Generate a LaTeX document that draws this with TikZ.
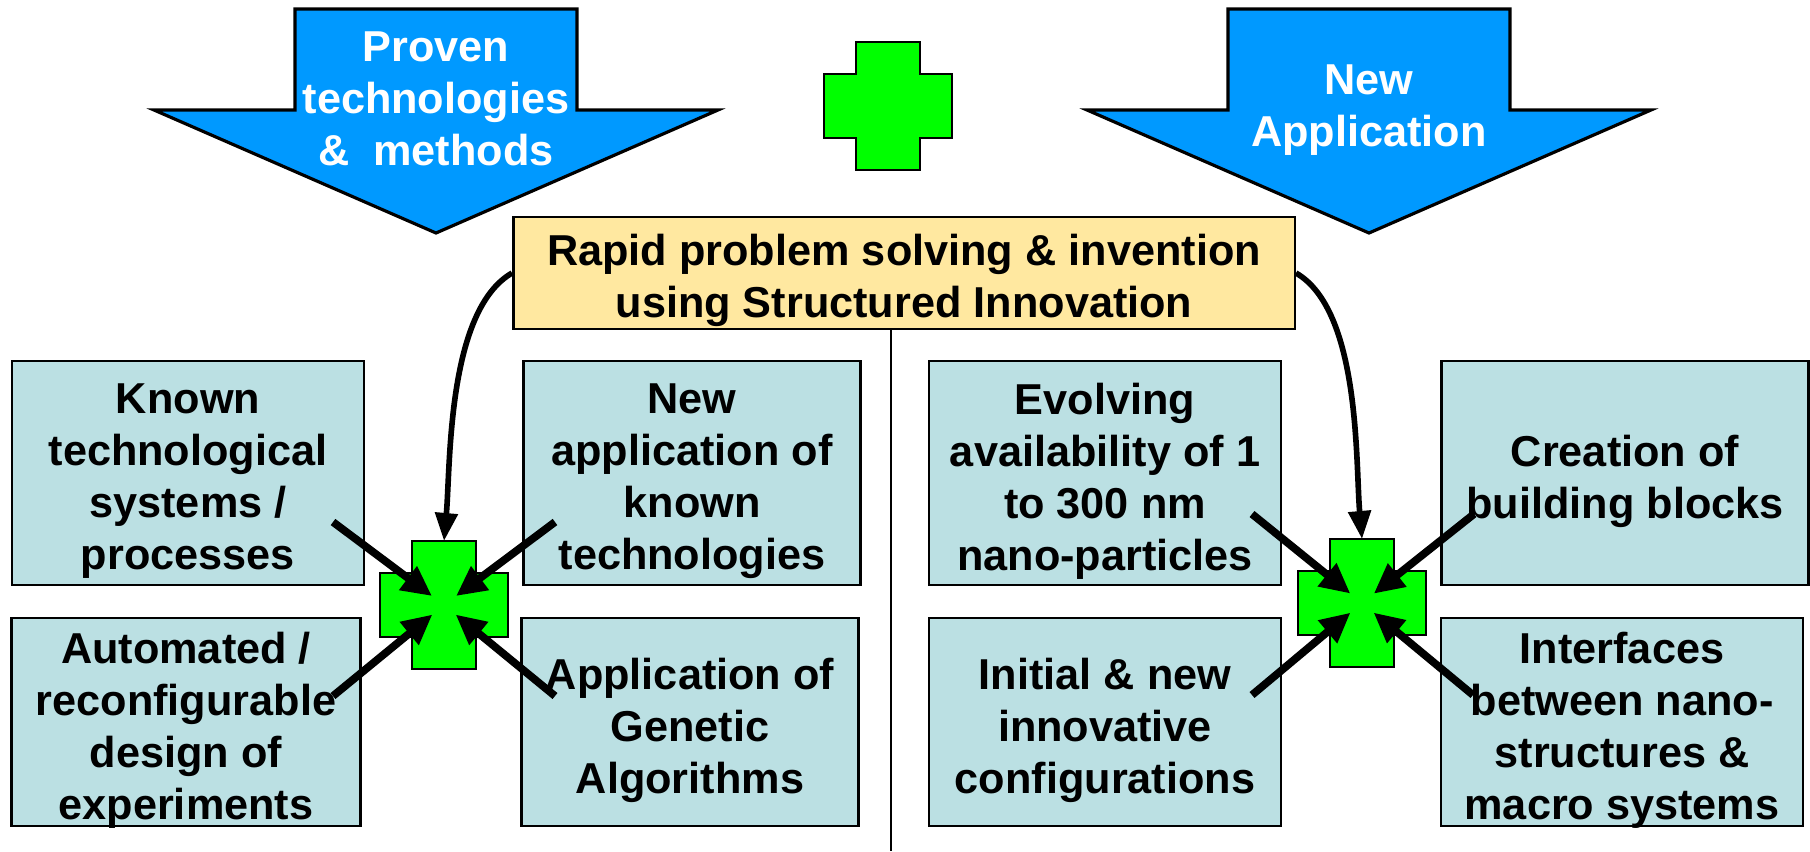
\documentclass[tikz,border=0pt]{standalone}
\usepackage{fontspec}
\setmainfont{Liberation Sans}
\usetikzlibrary{arrows.meta}
\definecolor{flowblue}{RGB}{0,153,255}
\definecolor{boxcyan}{RGB}{187,224,227}
\definecolor{notepale}{RGB}{255,232,160}
\definecolor{plusgreen}{RGB}{0,255,0}

\begin{document}
\begin{tikzpicture}[x=0.01cm, y=-0.01cm,
    every node/.style={font=\bfseries\fontsize{12.3}{14.8}\selectfont, align=center},
    topic/.style={draw, line width=0.7pt, fill=boxcyan, inner sep=0pt},
    ptr/.style={line width=2.2pt, -{Triangle[length=0.3cm, width=0.28cm]}, shorten >=0.15cm},
    feed/.style={line width=1.6pt, -{Triangle[length=0.28cm, width=0.22cm]}},
    bigdown/.pic={\draw[line width=0.9pt, fill=flowblue] (-141,9) -- (141,9) -- (141,110) -- (282,110)
        -- (0,233) -- (-282,110) -- (-141,110) -- cycle;},
    plusshape/.pic={\draw[line width=0.8pt, fill=plusgreen] (-32,-64) -- (32,-64) -- (32,-32) -- (64,-32)
        -- (64,32) -- (32,32) -- (32,64) -- (-32,64) -- (-32,32) -- (-64,32) -- (-64,-32) -- (-32,-32) -- cycle;
        \coordinate (-top) at (0,-64);}]
\useasboundingbox (0,0) rectangle (1810,851);

% inputs
\pic at (436,0) {bigdown};
\node[text=white] (proven) at (436,99) {Proven\\technologies\\\&~~methods};
\pic at (1369,0) {bigdown};
\node[text=white] (newapp) at (1369,110) {New\\Application};
\pic (top) at (888,106) {plusshape};

\node[topic, fill=notepale, minimum width=7.81cm, minimum height=1.12cm] (rapid) at (904,273) {};
\node (rapidtext) at ([yshift=-0.07cm]rapid.center) {Rapid problem solving \& invention\\using Structured Innovation};
\coordinate (divider) at (891,851);
\draw[line width=0.8pt] (rapid.south -| divider) -- (divider);

% left group
\node[topic, minimum width=3.52cm, minimum height=2.24cm] (known) at (188,473) {};
\node (knowntext) at ([yshift=-0.08cm]known.center) {Known\\technological\\systems /\\processes};
\node[topic, minimum width=3.37cm, minimum height=2.24cm] (newuse) at (692,473) {};
\node (newusetext) at ([yshift=-0.08cm]newuse.center) {New\\application of\\known\\technologies};
\node[topic, minimum width=3.49cm, minimum height=2.08cm] (doe) at (186,722) {};
\node (doetext) at ([yshift=-0.08cm]doe.center) {Automated /\\reconfigurable\\design of\\experiments};
\node[topic, minimum width=3.37cm, minimum height=2.08cm] (genetic) at (690,722) {};
\node (genetictext) at ([yshift=-0.08cm]genetic.center) {Application of\\Genetic\\Algorithms};
\pic (lp) at (444,605) {plusshape};
\coordinate (lplus) at (444,605);

% right group
\node[topic, minimum width=3.52cm, minimum height=2.24cm] (nano) at (1105,473) {};
\node (nanotext) at ([yshift=-0.08cm]nano.center) {Evolving\\availability of 1\\to 300 nm\\nano-particles};
\node[topic, minimum width=3.67cm, minimum height=2.24cm] (blocks) at (1625,473) {};
\node (blockstext) at ([yshift=-0.08cm]blocks.center) {Creation of\\building blocks};
\node[topic, minimum width=3.52cm, minimum height=2.08cm] (config) at (1105,722) {};
\node (configtext) at ([yshift=-0.08cm]config.center) {Initial \& new\\innovative\\configurations};
\node[topic, minimum width=3.62cm, minimum height=2.08cm] (interf) at (1622,722) {};
\node (interftext) at ([yshift=-0.08cm]interf.center) {Interfaces\\between nano-\\structures \&\\macro systems};
\pic (rp) at (1362,603) {plusshape};
\coordinate (rplus) at (1362,603);

\draw[feed] (rapid.west) to[out=210, in=85, looseness=0.7] (lp-top);
\draw[feed] (rapid.east) to[out=-30, in=95, looseness=0.7] (rp-top);

\coordinate (knownend) at (333,522);
\coordinate (newuseend) at (555,522);
\coordinate (doeend) at (333,696);
\coordinate (geneticend) at (555,696);
\coordinate (nanoend) at (1252,514);
\coordinate (blocksend) at (1474,514);
\coordinate (configend) at (1252,695);
\coordinate (interfend) at (1473,695);
\foreach \s in {knownend, newuseend, doeend, geneticend}
    \draw[ptr] (\s) -- (lplus);
\foreach \s in {nanoend, blocksend, configend, interfend}
    \draw[ptr] (\s) -- (rplus);
\end{tikzpicture}
\end{document}
